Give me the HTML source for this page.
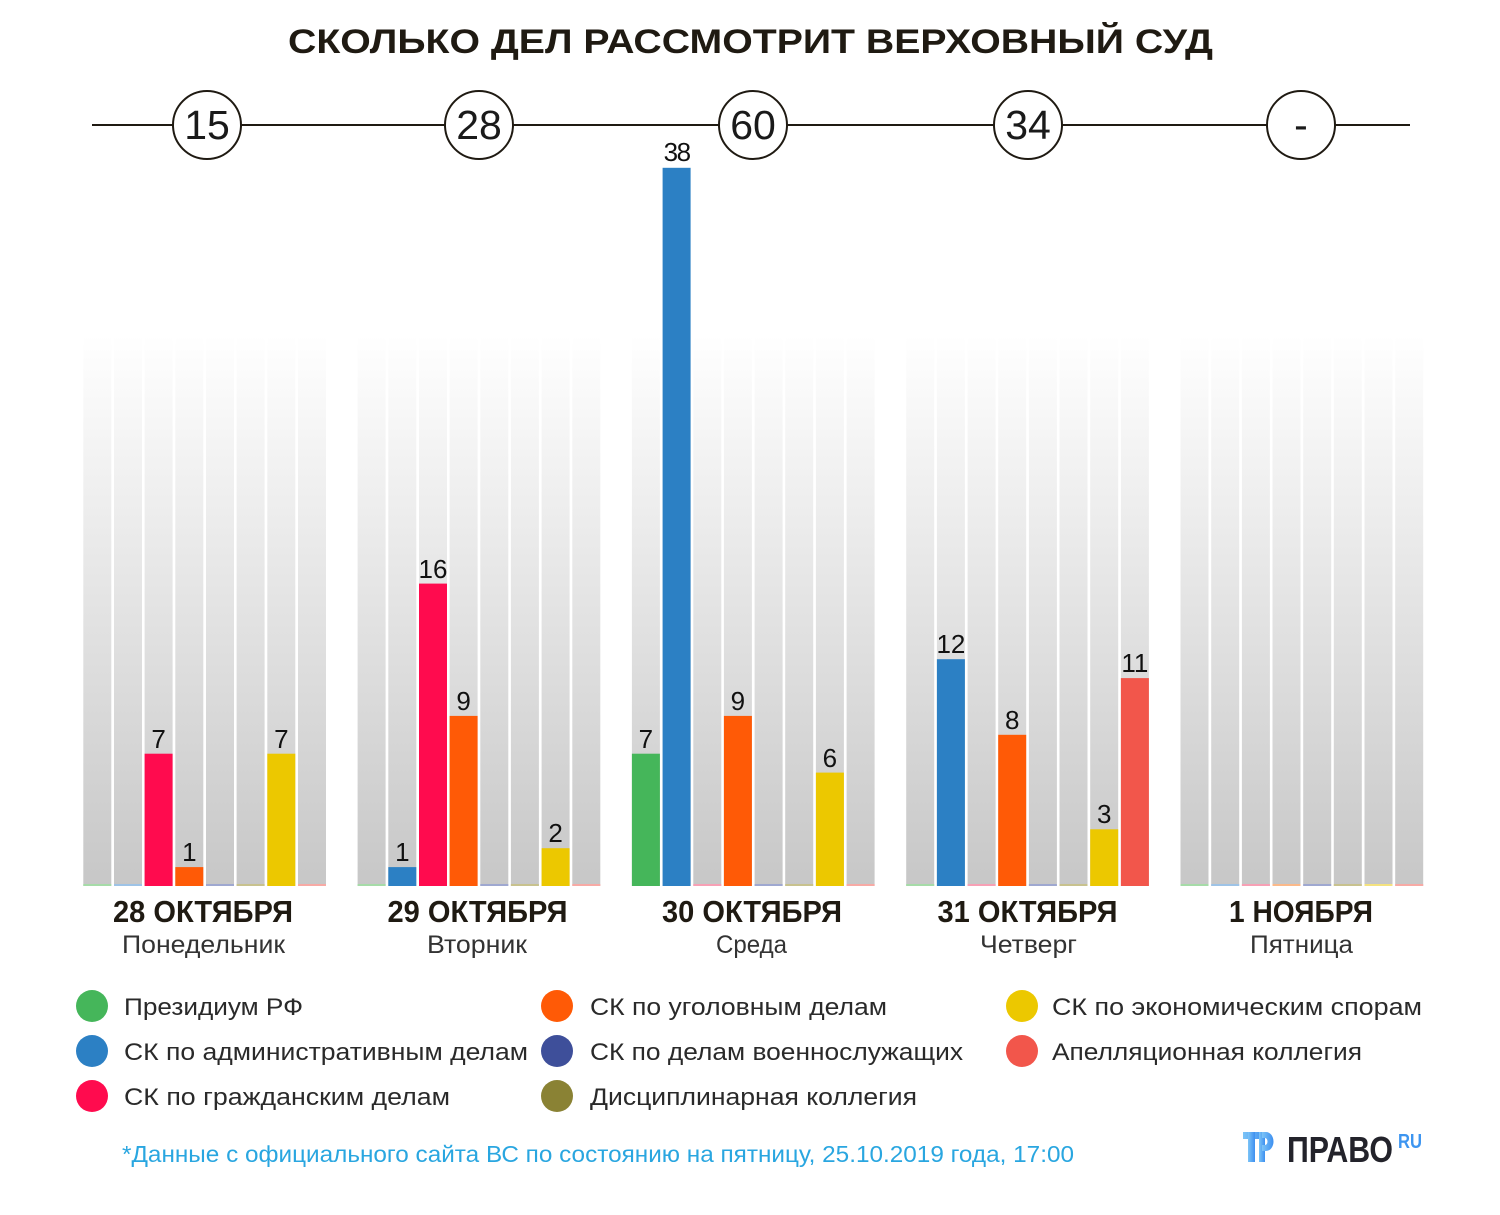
<!DOCTYPE html>
<html><head><meta charset="utf-8">
<style>
html,body{margin:0;padding:0;background:#fff;}
svg{display:block;}
text{font-family:"Liberation Sans","DejaVu Sans",sans-serif;}
</style></head>
<body>
<svg width="1500" height="1215" viewBox="0 0 1500 1215" xmlns="http://www.w3.org/2000/svg">
<defs>
<linearGradient id="cg" x1="0" y1="335" x2="0" y2="886" gradientUnits="userSpaceOnUse">
<stop offset="0" stop-color="#ffffff"/>
<stop offset="0.5" stop-color="#e3e3e3"/>
<stop offset="1" stop-color="#c7c7c7"/>
</linearGradient>
<linearGradient id="lg" x1="0" y1="0" x2="1" y2="0">
<stop offset="0" stop-color="#7cc4f7"/>
<stop offset="1" stop-color="#3d8ff0"/>
</linearGradient>
</defs>
<rect width="1500" height="1215" fill="#fff"/>

<!-- Title -->
<text x="288" y="53" font-size="34" font-weight="bold" fill="#1f1a12" textLength="925" lengthAdjust="spacingAndGlyphs">СКОЛЬКО ДЕЛ РАССМОТРИТ ВЕРХОВНЫЙ СУД</text>

<!-- Timeline -->
<line x1="92" y1="125" x2="1410" y2="125" stroke="#1f1a12" stroke-width="2"/>
<g fill="#fff" stroke="#1f1a12" stroke-width="2">
<circle cx="207" cy="125" r="34"/>
<circle cx="479" cy="125" r="34"/>
<circle cx="753" cy="125" r="34"/>
<circle cx="1028" cy="125" r="34"/>
<circle cx="1301" cy="125" r="34"/>
</g>
<g font-size="41" fill="#1a1a1a" text-anchor="middle">
<text x="207" y="139">15</text>
<text x="479" y="139">28</text>
<text x="753" y="139">60</text>
<text x="1028" y="139">34</text>
<text x="1301" y="139">-</text>
</g>

<!-- Gray columns -->
<g fill="url(#cg)">
<rect x="83.3" y="335" width="28" height="551"/><rect x="114" y="335" width="28" height="551"/><rect x="144.6" y="335" width="28" height="551"/><rect x="175.3" y="335" width="28" height="551"/><rect x="206" y="335" width="28" height="551"/><rect x="236.6" y="335" width="28" height="551"/><rect x="267.3" y="335" width="28" height="551"/><rect x="298" y="335" width="28" height="551"/>
<rect x="357.6" y="335" width="28" height="551"/><rect x="388.3" y="335" width="28" height="551"/><rect x="419" y="335" width="28" height="551"/><rect x="449.6" y="335" width="28" height="551"/><rect x="480.3" y="335" width="28" height="551"/><rect x="510.9" y="335" width="28" height="551"/><rect x="541.6" y="335" width="28" height="551"/><rect x="572.3" y="335" width="28" height="551"/>
<rect x="631.9" y="335" width="28" height="551"/><rect x="662.6" y="335" width="28" height="551"/><rect x="693.3" y="335" width="28" height="551"/><rect x="723.9" y="335" width="28" height="551"/><rect x="754.6" y="335" width="28" height="551"/><rect x="785.2" y="335" width="28" height="551"/><rect x="815.9" y="335" width="28" height="551"/><rect x="846.6" y="335" width="28" height="551"/>
<rect x="906.2" y="335" width="28" height="551"/><rect x="936.9" y="335" width="28" height="551"/><rect x="967.6" y="335" width="28" height="551"/><rect x="998.2" y="335" width="28" height="551"/><rect x="1028.9" y="335" width="28" height="551"/><rect x="1059.5" y="335" width="28" height="551"/><rect x="1090.2" y="335" width="28" height="551"/><rect x="1120.9" y="335" width="28" height="551"/>
<rect x="1180.5" y="335" width="28" height="551"/><rect x="1211.2" y="335" width="28" height="551"/><rect x="1241.9" y="335" width="28" height="551"/><rect x="1272.5" y="335" width="28" height="551"/><rect x="1303.2" y="335" width="28" height="551"/><rect x="1333.8" y="335" width="28" height="551"/><rect x="1364.5" y="335" width="28" height="551"/><rect x="1395.2" y="335" width="28" height="551"/>
</g>

<!-- Baseline tint lines -->
<g>
<rect x="83.3" y="884" width="28" height="2" fill="#a6dba8"/><rect x="114" y="884" width="28" height="2" fill="#9ec3e6"/><rect x="206" y="884" width="28" height="2" fill="#9fa8d0"/><rect x="236.6" y="884" width="28" height="2" fill="#c8c28e"/><rect x="298" y="884" width="28" height="2" fill="#f7aaa5"/>
<rect x="357.6" y="884" width="28" height="2" fill="#a6dba8"/><rect x="480.3" y="884" width="28" height="2" fill="#9fa8d0"/><rect x="510.9" y="884" width="28" height="2" fill="#c8c28e"/><rect x="572.3" y="884" width="28" height="2" fill="#f7aaa5"/>
<rect x="693.3" y="884" width="28" height="2" fill="#f7a0b5"/><rect x="754.6" y="884" width="28" height="2" fill="#9fa8d0"/><rect x="785.2" y="884" width="28" height="2" fill="#c8c28e"/><rect x="846.6" y="884" width="28" height="2" fill="#f7aaa5"/>
<rect x="906.2" y="884" width="28" height="2" fill="#a6dba8"/><rect x="967.6" y="884" width="28" height="2" fill="#f7a0b5"/><rect x="1028.9" y="884" width="28" height="2" fill="#9fa8d0"/><rect x="1059.5" y="884" width="28" height="2" fill="#c8c28e"/>
<rect x="1180.5" y="884" width="28" height="2" fill="#a6dba8"/><rect x="1211.2" y="884" width="28" height="2" fill="#9ec3e6"/><rect x="1241.9" y="884" width="28" height="2" fill="#f7a0b5"/><rect x="1272.5" y="884" width="28" height="2" fill="#fbb98a"/><rect x="1303.2" y="884" width="28" height="2" fill="#9fa8d0"/><rect x="1333.8" y="884" width="28" height="2" fill="#c8c28e"/><rect x="1364.5" y="884" width="28" height="2" fill="#f4e27f"/><rect x="1395.2" y="884" width="28" height="2" fill="#f7aaa5"/>
</g>

<!-- Bars -->
<g>
<rect x="144.6" y="753.7" width="28" height="132.3" fill="#ff0b4e"/>
<rect x="175.3" y="867.1" width="28" height="18.9" fill="#ff5a06"/>
<rect x="267.3" y="753.7" width="28" height="132.3" fill="#ecc800"/>

<rect x="388.3" y="867.1" width="28" height="18.9" fill="#2c80c4"/>
<rect x="419" y="583.6" width="28" height="302.4" fill="#ff0b4e"/>
<rect x="449.6" y="715.9" width="28" height="170.1" fill="#ff5a06"/>
<rect x="541.6" y="848.2" width="28" height="37.8" fill="#ecc800"/>

<rect x="631.9" y="753.7" width="28" height="132.3" fill="#45b65a"/>
<rect x="662.6" y="167.8" width="28" height="718.2" fill="#2c80c4"/>
<rect x="723.9" y="715.9" width="28" height="170.1" fill="#ff5a06"/>
<rect x="815.9" y="772.6" width="28" height="113.4" fill="#ecc800"/>

<rect x="936.9" y="659.2" width="28" height="226.8" fill="#2c80c4"/>
<rect x="998.2" y="734.8" width="28" height="151.2" fill="#ff5a06"/>
<rect x="1090.2" y="829.3" width="28" height="56.7" fill="#ecc800"/>
<rect x="1120.9" y="678.1" width="28" height="207.9" fill="#f2564b"/>
</g>

<!-- Value labels -->
<g font-size="26" fill="#111" text-anchor="middle">
<text x="158.6" y="748">7</text>
<text x="189.3" y="861">1</text>
<text x="281.3" y="748">7</text>
<text x="402.3" y="861">1</text>
<text x="433" y="578">16</text>
<text x="463.6" y="710">9</text>
<text x="555.6" y="842">2</text>
<text x="645.9" y="748">7</text>
<text x="676.6" y="161" letter-spacing="-1.5">38</text>
<text x="737.9" y="710">9</text>
<text x="829.9" y="767">6</text>
<text x="950.9" y="653">12</text>
<text x="1012.2" y="729">8</text>
<text x="1104.2" y="823">3</text>
<text x="1134.9" y="672">11</text>
</g>

<!-- Date labels -->
<g font-size="31" font-weight="bold" fill="#1f1a12">
<text x="113" y="922" textLength="180" lengthAdjust="spacingAndGlyphs">28 ОКТЯБРЯ</text>
<text x="387.5" y="922" textLength="180" lengthAdjust="spacingAndGlyphs">29 ОКТЯБРЯ</text>
<text x="662" y="922" textLength="180" lengthAdjust="spacingAndGlyphs">30 ОКТЯБРЯ</text>
<text x="937.5" y="922" textLength="180" lengthAdjust="spacingAndGlyphs">31 ОКТЯБРЯ</text>
<text x="1229" y="922" textLength="144" lengthAdjust="spacingAndGlyphs">1 НОЯБРЯ</text>
</g>
<g font-size="25" fill="#333">
<text x="122" y="953" textLength="163" lengthAdjust="spacingAndGlyphs">Понедельник</text>
<text x="427" y="953" textLength="100" lengthAdjust="spacingAndGlyphs">Вторник</text>
<text x="716" y="953" textLength="71" lengthAdjust="spacingAndGlyphs">Среда</text>
<text x="980" y="953" textLength="97" lengthAdjust="spacingAndGlyphs">Четверг</text>
<text x="1250" y="953" textLength="103" lengthAdjust="spacingAndGlyphs">Пятница</text>
</g>

<!-- Legend -->
<g>
<circle cx="92" cy="1006" r="16" fill="#45b65a"/>
<circle cx="92" cy="1051" r="16" fill="#2c80c4"/>
<circle cx="92" cy="1096" r="16" fill="#ff0b4e"/>
<circle cx="557" cy="1006" r="16" fill="#ff5a06"/>
<circle cx="557" cy="1051" r="16" fill="#3e4f9a"/>
<circle cx="557" cy="1096" r="16" fill="#8a8234"/>
<circle cx="1022" cy="1006" r="16" fill="#ecc800"/>
<circle cx="1022" cy="1051" r="16" fill="#f2564b"/>
</g>
<g font-size="24" fill="#2a2a2a">
<text x="124" y="1015" textLength="179" lengthAdjust="spacingAndGlyphs">Президиум РФ</text>
<text x="124" y="1060" textLength="404" lengthAdjust="spacingAndGlyphs">СК по административным делам</text>
<text x="124" y="1105" textLength="326" lengthAdjust="spacingAndGlyphs">СК по гражданским делам</text>
<text x="590" y="1015" textLength="297" lengthAdjust="spacingAndGlyphs">СК по уголовным делам</text>
<text x="590" y="1060" textLength="373" lengthAdjust="spacingAndGlyphs">СК по делам военнослужащих</text>
<text x="590" y="1105" textLength="327" lengthAdjust="spacingAndGlyphs">Дисциплинарная коллегия</text>
<text x="1052" y="1015" textLength="370" lengthAdjust="spacingAndGlyphs">СК по экономическим спорам</text>
<text x="1052" y="1060" textLength="310" lengthAdjust="spacingAndGlyphs">Апелляционная коллегия</text>
</g>

<!-- Footnote -->
<text x="122" y="1162" font-size="23" fill="#29a6e0" textLength="952" lengthAdjust="spacingAndGlyphs">*Данные с официального сайта ВС по состоянию на пятницу, 25.10.2019 года, 17:00</text>

<!-- Logo -->
<g fill="url(#lg)">
<rect x="1243" y="1132" width="22" height="7"/>
<rect x="1248" y="1132" width="7" height="30"/>
<rect x="1259" y="1132" width="6" height="30"/>
<path d="M1262 1132 h4 a7.5 9.5 0 0 1 0 19 h-4 v-6 h3 a2.5 3.5 0 0 0 0 -7 h-3 z"/>
</g>
<text x="1287" y="1162" font-size="36" font-weight="bold" fill="#23232b" textLength="106" lengthAdjust="spacingAndGlyphs">ПРАВО</text>
<text x="1398" y="1148" font-size="20" font-weight="bold" fill="#3d95f0" textLength="24" lengthAdjust="spacingAndGlyphs">RU</text>
</svg>
</body></html>
